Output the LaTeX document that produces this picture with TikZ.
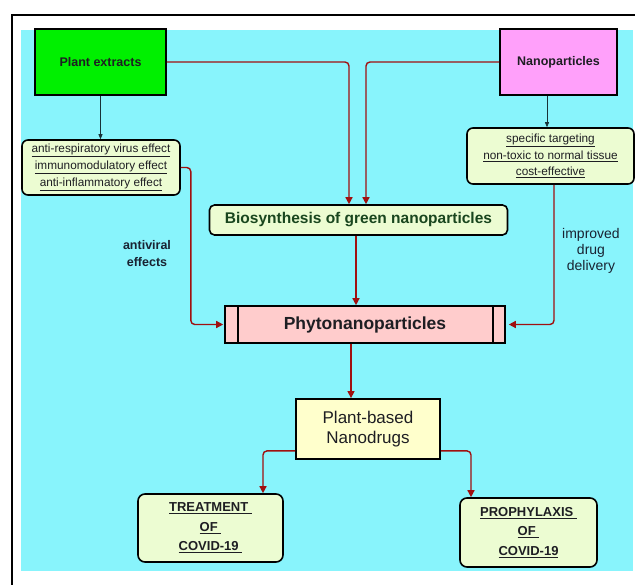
\documentclass[tikz,border=0pt]{standalone}
\usepackage{fontspec}
\setmainfont{Liberation Sans}
\usetikzlibrary{arrows.meta}
\definecolor{bgcyan}{RGB}{136,244,252}
\definecolor{pgreen}{RGB}{0,240,0}
\definecolor{pmag}{RGB}{255,160,250}
\definecolor{listfill}{RGB}{236,252,210}
\definecolor{phyfill}{RGB}{255,204,204}
\definecolor{drugfill}{RGB}{255,255,204}
\definecolor{arrowred}{RGB}{160,16,16}
\definecolor{txtdark}{RGB}{30,30,35}
\definecolor{lbldark}{RGB}{25,35,50}
\definecolor{biogreen}{RGB}{25,70,30}
\begin{document}
\begin{tikzpicture}[x=1pt,y=-1pt,
  flow/.style={draw=arrowred, line width=1.4pt, rounded corners=4pt, -{Triangle[length=7pt,width=7pt]}},
  thinflow/.style={draw=txtdark!80!teal, line width=0.7pt, -{Triangle[length=5pt,width=4pt]}},
  topbox/.style={draw=black, line width=1.8pt, inner sep=0pt, font=\fontsize{12.5}{14}\selectfont\bfseries, text=txtdark},
  listbox/.style={draw=black, line width=1.6pt, rounded corners=6pt, fill=listfill, inner sep=0pt, align=center, font=\fontsize{11.8}{16.7}\selectfont, text=txtdark},
  endbox/.style={draw=black, line width=1.6pt, rounded corners=7pt, fill=listfill, inner sep=0pt, align=center, font=\fontsize{13}{19.5}\selectfont\bfseries, text=txtdark},
  lbl/.style={align=center, text=lbldark}
]
\useasboundingbox (0,0) rectangle (635,585);
\fill[white] (0,0) rectangle (635,585);
\fill[bgcyan] (21,30) rectangle (633,571);
\draw[line width=2.5pt] (12,585) -- (12,15) -- (635,15);

\node[topbox, fill=pgreen, minimum width=131pt, minimum height=66pt] (plant) at (100.5,62) {Plant extracts};
\node[topbox, fill=pmag, minimum width=117pt, minimum height=66pt] (nano) at (558.5,62) {Nanoparticles};

\node[listbox, minimum width=158pt, minimum height=55pt] (llist) at (101,167.5)
  {\underline{anti-respiratory virus effect}\\\underline{immunomodulatory effect}\\\underline{anti-inflammatory effect}};
\node[listbox, minimum width=167pt, minimum height=56pt] (rlist) at (550.5,156)
  {\underline{specific targeting}\\\underline{non-toxic to normal tissue}\\\underline{cost-effective}};

\node[draw=black, line width=1.6pt, rounded corners=5pt, fill=listfill, inner sep=0pt,
  minimum width=298pt, minimum height=30pt, text=biogreen,
  font=\fontsize{15.5}{18}\selectfont\bfseries] (bio) at (358.5,220) {Biosynthesis of green nanoparticles};

\node[draw=black, line width=1.6pt, fill=phyfill, inner sep=0pt, minimum width=280pt, minimum height=37pt,
  text=txtdark, font=\fontsize{17.5}{20}\selectfont\bfseries] (phyto) at (365,324.5) {Phytonanoparticles};
\draw[line width=1.6pt] ([xshift=14pt]phyto.north west) -- ([xshift=14pt]phyto.south west);
\draw[line width=1.6pt] ([xshift=-13pt]phyto.north east) -- ([xshift=-13pt]phyto.south east);

\node[draw=black, line width=1.8pt, fill=drugfill, inner sep=0pt, minimum width=144pt, minimum height=60pt,
  align=center, text=txtdark, font=\fontsize{17}{20}\selectfont] (drugs) at (368,429) {Plant-based\\Nanodrugs};

\node[endbox, minimum width=145pt, minimum height=68pt] (treat) at (210.5,528)
  {\underline{TREATMENT\ }\\\underline{OF\ }\\\underline{COVID-19\ }};
\node[endbox, minimum width=137pt, minimum height=69pt] (proph) at (528.5,532.5)
  {\underline{PROPHYLAXIS\ }\\\underline{OF\ }\\\underline{COVID-19}};

% connectors
\coordinate (dtop) at ([xshift=-17pt]drugs.north);
\draw[flow] (plant.east) -| ([xshift=-9.5pt]bio.north);
\draw[flow] (nano.west) -| ([xshift=7.5pt]bio.north);
\draw[thinflow] (plant.south) -- (plant.south |- llist.north);
\draw[thinflow] ([xshift=-11.5pt]nano.south) -- ([xshift=-11.5pt]nano.south |- rlist.north);
\draw[flow] ([xshift=-2.5pt]bio.south) -- ([xshift=-2.5pt]bio.south |- phyto.north);
\draw[flow] (llist.east) -- ++(10,0) |- ([xshift=-1pt]phyto.west);
\draw[flow] ([xshift=3.5pt]rlist.south) |- ([xshift=3pt]phyto.east);
\draw[flow] (phyto.south -| dtop) -- (dtop);
\draw[flow] ([yshift=9pt]drugs.south west) -| ([xshift=52.5pt]treat.north);
\draw[flow] ([yshift=9pt]drugs.south east) -| ([xshift=-57.5pt]proph.north);

\node[lbl, font=\fontsize{12.5}{17}\selectfont\bfseries] (av) at (147,253.5) {antiviral\\effects};
\node[lbl, font=\fontsize{14}{16}\selectfont] (idd) at (591,251) {improved\\drug\\delivery};
\end{tikzpicture}
\end{document}
